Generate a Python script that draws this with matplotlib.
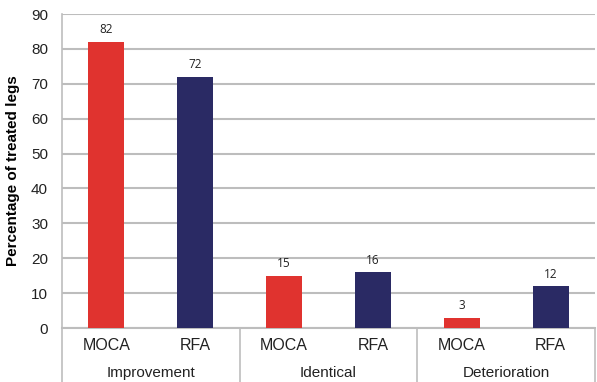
import matplotlib
matplotlib.use("Agg")
import matplotlib.pyplot as plt
from matplotlib.transforms import blended_transform_factory

groups = ["Improvement", "Identical", "Deterioration"]
methods = ["MOCA", "RFA"]
moca_values = [82, 15, 3]
rfa_values = [72, 16, 12]
yticks = [0, 10, 20, 30, 40, 50, 60, 70, 80, 90]
ylabel = "Percentage of treated legs"

red = "#E0332F"
navy = "#2A2A64"
grid_c = "#BDBDBD"
text_c = "#222222"

plt.rcParams['font.family'] = ['Liberation Sans', 'DejaVu Sans']

fig = plt.figure(figsize=(5.97, 3.82), dpi=100)
ax = fig.add_axes([62/597, 54/382, 533/597, 314/382])

xs, vals, cols, labels = [], [], [], []
for gi in range(len(groups)):
    for mi, (m, v) in enumerate(zip(methods, [moca_values[gi], rfa_values[gi]])):
        xs.append(gi * 2 + mi)
        vals.append(v)
        cols.append(red if mi == 0 else navy)
        labels.append(m)

ax.bar(xs, vals, width=0.405, color=cols, zorder=3)
for x, v in zip(xs, vals):
    ax.annotate(str(v), (x, v), xytext=(0, 4), textcoords="offset points",
                ha="center", va="bottom", fontsize=8.5, color=text_c,
                family=["Open Sans", "DejaVu Sans"])

ax.set_xlim(-0.5, 5.5)
ax.set_ylim(0, 90)
ax.set_yticks(yticks)
ax.yaxis.grid(True, color=grid_c, linewidth=1.5, zorder=0)
ax.set_axisbelow(True)
for s in ["top", "right", "bottom"]:
    ax.spines[s].set_visible(False)
ax.spines["left"].set_color(grid_c)
ax.spines["left"].set_linewidth(1.2)
ax.tick_params(axis="y", length=0, pad=10, labelsize=11, labelcolor=text_c)
ax.set_xticks([])
ax.set_ylabel(ylabel, fontsize=11, fontweight="bold", color="black", labelpad=8)

trans = blended_transform_factory(ax.transData, ax.transAxes)
# bottom line
ax.plot([-0.5, 5.5], [0, 0], color=grid_c, lw=1.5, transform=trans, clip_on=False, zorder=2)
# separators
for b in [-0.5, 1.5, 3.5, 5.5]:
    ax.plot([b, b], [0, -54/314], color=grid_c, lw=1.2, transform=trans, clip_on=False)
for x, lab in zip(xs, labels):
    ax.text(x, -17/314, lab, transform=trans, ha="center", va="center",
            fontsize=11.5, color=text_c)
for gi, g in enumerate(groups):
    ax.text(gi * 2 + 0.5, -45/314, g, transform=trans, ha="center", va="center",
            fontsize=11, color=text_c)

fig.savefig("out.png", dpi=100)
